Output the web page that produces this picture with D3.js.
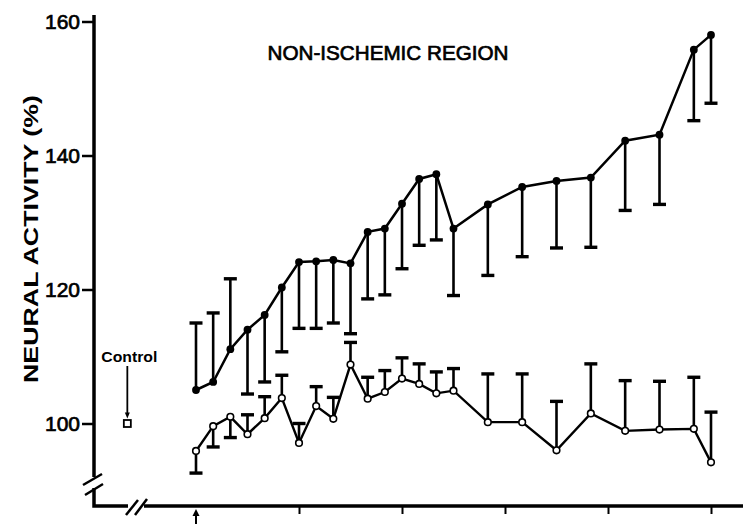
<!DOCTYPE html>
<html>
<head>
<meta charset="utf-8">
<script src="https://cdn.jsdelivr.net/npm/d3@7"></script>
<style>
  body { margin: 0; background: #fff; }
  svg { display: block; }
  text { font-family: "Liberation Sans", Arial, sans-serif; fill: #000; }
</style>
</head>
<body>
<div id="chart"></div>
<script>
// minutes after occlusion
const times = [0, 10, 20, 30, 40, 50, 60, 70, 80, 90, 100, 110, 120, 130, 140, 150,
    170, 190, 210, 230, 250, 270, 290, 300];

// filled circles
const filledMean = [105.0, 106.2, 111.1, 114.0, 116.2, 120.3, 124.1, 124.2, 124.4, 123.9, 128.6, 129.1,
    132.8, 136.5, 137.2, 129.1, 132.7, 135.3, 136.2, 136.7, 142.2, 143.1, 155.8, 158.0];
const filledSem = [10.0, 10.3, 10.5, 9.6, 10.0, 9.6, 9.9, 10.0, 9.4, 10.5, 10.0, 9.9,
    9.7, 9.9, 9.8, 10.0, 10.6, 10.4, 10.0, 10.4, 10.4, 10.4, 10.6, 10.2];
const filledDir = [1, 1, 1, -1, -1, -1, -1, -1, -1, -1, -1, -1,
    -1, -1, -1, -1, -1, -1, -1, -1, -1, -1, -1, -1];

// open circles
const openMean = [95.9, 99.6, 101.0, 98.4, 100.8, 103.8, 97.1, 102.6, 100.7, 108.8, 103.7, 104.7,
    106.7, 105.9, 104.5, 104.9, 100.2, 100.2, 96.0, 101.5, 98.9, 99.1, 99.2, 94.2];
const openSem = [3.3, 3.1, 3.1, 2.9, 3.2, 3.4, 2.9, 2.9, 3.2, 3.3, 3.2, 3.2,
    3.1, 3.0, 3.2, 3.3, 7.2, 7.2, 7.3, 7.4, 7.5, 7.2, 7.7, 7.5];
const openDir = [-1, -1, -1, 1, 1, 1, 1, 1, 1, 1, 1, 1,
    1, 1, 1, 1, 1, 1, 1, 1, 1, 1, 1, 1];

const controlTime = -40;
const controlValue = 100;

const yTicks = [100, 120, 140, 160];
const xTicks = [60, 120, 180, 240, 300];

const width = 743, height = 530;
const axisX = 94, axisY = 506;

const x = d3.scaleLinear().domain([0, 300]).range([196, 711]);
const y = d3.scaleLinear().domain([100, 160]).range([423.5, 21.5]);

const svg = d3.select('#chart').append('svg')
    .attr('width', width)
    .attr('height', height);

// y axis
const yAxis = svg.append('g')
    .attr('transform', `translate(${axisX},0)`)
    .call(d3.axisLeft(y).tickValues(yTicks).tickSize(12).tickPadding(2));
yAxis.select('.domain').remove();
yAxis.selectAll('.tick line').attr('stroke', '#000').attr('stroke-width', 2.5);
yAxis.selectAll('.tick text')
    .attr('font-size', 21)
    .attr('font-family', '"Liberation Sans", Arial, sans-serif')
    .attr('stroke', '#000')
    .attr('stroke-width', 0.7);

// x axis
const xAxis = svg.append('g')
    .attr('transform', `translate(0,${axisY})`)
    .call(d3.axisBottom(x).tickValues(xTicks).tickSize(8).tickFormat(''));
xAxis.select('.domain').remove();
xAxis.selectAll('.tick line').attr('stroke', '#000').attr('stroke-width', 2);

// axis lines with breaks
const axisLines = [
    [[axisX, 15], [axisX, 477]],
    [[axisX, 488], [axisX, axisY], [128, axisY]],
    [[144, axisY], [743, axisY]]
];
svg.selectAll('path.axis-line')
    .data(axisLines)
    .enter().append('path')
    .attr('class', 'axis-line')
    .attr('d', d3.line())
    .attr('fill', 'none')
    .attr('stroke', '#000')
    .attr('stroke-width', 3.5);

const breaks = [
    [[83, 485], [102, 474]],
    [[85, 495], [103, 484]],
    [[126, 515], [138, 500]],
    [[135, 515], [147, 499]]
];
svg.selectAll('path.break')
    .data(breaks)
    .enter().append('path')
    .attr('class', 'break')
    .attr('d', d3.line())
    .attr('stroke', '#000')
    .attr('stroke-width', 2.5);

// arrow at time zero
svg.append('line')
    .attr('x1', x(0)).attr('x2', x(0))
    .attr('y1', axisY + 8).attr('y2', axisY + 18)
    .attr('stroke', '#000').attr('stroke-width', 2);
svg.append('path')
    .attr('d', `M${x(0) - 3.5},${axisY + 10}L${x(0)},${axisY + 3}L${x(0) + 3.5},${axisY + 10}Z`)
    .attr('fill', '#000');

// labels
svg.append('text')
    .attr('transform', `translate(38,239) rotate(-90)`)
    .attr('text-anchor', 'middle')
    .attr('font-size', 21)
    .attr('font-weight', 'bold')
    .attr('textLength', 288)
    .attr('lengthAdjust', 'spacingAndGlyphs')
    .text('NEURAL ACTIVITY (%)');

svg.append('text')
    .attr('x', 388)
    .attr('y', 60)
    .attr('text-anchor', 'middle')
    .attr('font-size', 21)
    .attr('textLength', 241)
    .attr('lengthAdjust', 'spacingAndGlyphs')
    .attr('stroke', '#000')
    .attr('stroke-width', 0.7)
    .text('NON-ISCHEMIC REGION');

// series
const filled = times.map((t, i) => ({ t, v: filledMean[i], e: filledSem[i] * filledDir[i] }));
const open = times.map((t, i) => ({ t, v: openMean[i], e: openSem[i] * openDir[i] }));

const drawBars = (data, cls) => {
    const g = svg.append('g').attr('class', cls);
    g.selectAll('line.bar')
        .data(data)
        .enter().append('line')
        .attr('class', 'bar')
        .attr('x1', d => x(d.t)).attr('x2', d => x(d.t))
        .attr('y1', d => y(d.v)).attr('y2', d => y(d.v + d.e))
        .attr('stroke', '#000').attr('stroke-width', 2.6);
    g.selectAll('line.cap')
        .data(data)
        .enter().append('line')
        .attr('class', 'cap')
        .attr('x1', d => x(d.t) - 6.5).attr('x2', d => x(d.t) + 6.5)
        .attr('y1', d => y(d.v + d.e)).attr('y2', d => y(d.v + d.e))
        .attr('stroke', '#000').attr('stroke-width', 3.4);
};

drawBars(filled, 'filled-bars');
drawBars(open, 'open-bars');

const line = d3.line().x(d => x(d.t)).y(d => y(d.v));

svg.append('path')
    .datum(filled)
    .attr('d', line)
    .attr('fill', 'none')
    .attr('stroke', '#000')
    .attr('stroke-width', 2.5);

svg.append('path')
    .datum(open)
    .attr('d', line)
    .attr('fill', 'none')
    .attr('stroke', '#000')
    .attr('stroke-width', 2.4);

svg.selectAll('circle.filled')
    .data(filled)
    .enter().append('circle')
    .attr('class', 'filled')
    .attr('cx', d => x(d.t))
    .attr('cy', d => y(d.v))
    .attr('r', 3.9)
    .attr('fill', '#000');

svg.selectAll('circle.open')
    .data(open)
    .enter().append('circle')
    .attr('class', 'open')
    .attr('cx', d => x(d.t))
    .attr('cy', d => y(d.v))
    .attr('r', 3.3)
    .attr('fill', '#fff')
    .attr('stroke', '#000')
    .attr('stroke-width', 1.6);

// control
const cx = x(controlTime);
svg.append('text')
    .attr('x', cx + 2)
    .attr('y', 362)
    .attr('text-anchor', 'middle')
    .attr('font-size', 15)
    .attr('font-weight', 'bold')
    .attr('textLength', 56)
    .attr('lengthAdjust', 'spacingAndGlyphs')
    .text('Control');
svg.append('line')
    .attr('x1', cx).attr('x2', cx)
    .attr('y1', 366).attr('y2', y(controlValue) - 10)
    .attr('stroke', '#000').attr('stroke-width', 1.8);
svg.append('path')
    .attr('d', `M${cx - 2.5},${y(controlValue) - 11}L${cx},${y(controlValue) - 5}L${cx + 2.5},${y(controlValue) - 11}Z`)
    .attr('fill', '#000');
svg.append('rect')
    .attr('x', cx - 3.5)
    .attr('y', y(controlValue) - 3.5)
    .attr('width', 7)
    .attr('height', 7)
    .attr('fill', '#fff')
    .attr('stroke', '#000')
    .attr('stroke-width', 1.8);
</script>
</body>
</html>
